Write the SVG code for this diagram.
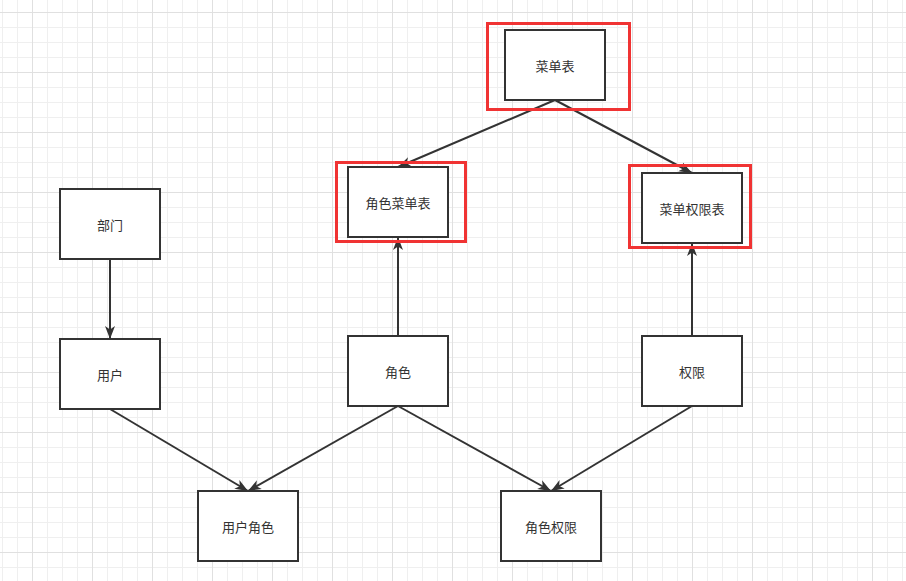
<svg xmlns="http://www.w3.org/2000/svg" width="906" height="581" viewBox="0 0 906 581">
<defs>
<pattern id="minor" x="2" y="-3" width="15" height="15" patternUnits="userSpaceOnUse">
<path d="M0.5,0 V15 M0,0.5 H15" stroke="#efefef" stroke-width="1" fill="none"/>
</pattern>
<pattern id="major" x="32" y="12" width="60" height="60" patternUnits="userSpaceOnUse">
<path d="M0.5,0 V60 M0,0.5 H60" stroke="#e0e0e0" stroke-width="1" fill="none"/>
</pattern>
<marker id="arr" markerUnits="userSpaceOnUse" markerWidth="16" markerHeight="12" refX="13" refY="6" orient="auto">
<path d="M0,1 L13,6 L0,11 L3.5,6 Z" fill="#333"/>
</marker>
</defs>
<style>
.node rect.b{fill:#fff;stroke:#333;stroke-width:2}
.node rect.h{fill:none;stroke:#f03333;stroke-width:3}
.node text{font-family:"Noto Sans CJK SC","Noto Sans",sans-serif;font-size:13px;fill:#333;text-anchor:middle;dominant-baseline:central}
.edges path{fill:none;stroke:#333;stroke-width:2;marker-end:url(#arr)}
</style>
<rect width="906" height="581" fill="#fff"/>
<rect width="906" height="581" fill="url(#minor)"/>
<rect width="906" height="581" fill="url(#major)"/>
<g class="edges">
<path d="M555,100 L398,167"/>
<path d="M555,100 L692,173"/>
<path d="M110,259 L110,339"/>
<path d="M398,336 L398,237"/>
<path d="M692,336 L692,243"/>
<path d="M110,409 L248,491"/>
<path d="M398,406 L248,491"/>
<path d="M398,406 L551,491"/>
<path d="M692,406 L551,491"/>
</g>
<g id="n-menu" class="node"><rect class="h" x="487.5" y="23.5" width="142" height="86"/><rect class="b" x="505" y="30" width="100" height="70"/><text x="555" y="65">菜单表</text></g>
<g id="n-rolemenu" class="node"><rect class="h" x="336.5" y="162.5" width="129" height="79"/><rect class="b" x="348" y="167" width="100" height="70"/><text x="398" y="202">角色菜单表</text></g>
<g id="n-menuperm" class="node"><rect class="h" x="629.5" y="165.5" width="121" height="82"/><rect class="b" x="642" y="173" width="100" height="70"/><text x="692" y="208">菜单权限表</text></g>
<g id="n-dept" class="node"><rect class="b" x="60" y="189" width="100" height="70"/><text x="110" y="224">部门</text></g>
<g id="n-user" class="node"><rect class="b" x="60" y="339" width="100" height="70"/><text x="110" y="374">用户</text></g>
<g id="n-role" class="node"><rect class="b" x="348" y="336" width="100" height="70"/><text x="398" y="371">角色</text></g>
<g id="n-perm" class="node"><rect class="b" x="642" y="336" width="100" height="70"/><text x="692" y="371">权限</text></g>
<g id="n-userrole" class="node"><rect class="b" x="198" y="491" width="100" height="70"/><text x="248" y="526">用户角色</text></g>
<g id="n-roleperm" class="node"><rect class="b" x="501" y="491" width="100" height="70"/><text x="551" y="526">角色权限</text></g>
</svg>
